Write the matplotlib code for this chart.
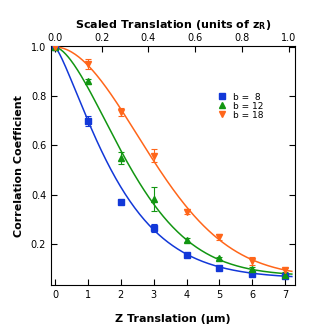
import numpy as np
import matplotlib.pyplot as plt
from matplotlib.lines import Line2D

# data
z = np.array([0, 1, 2, 3, 4, 5, 6, 7])
b8 = np.array([1.0, 0.70, 0.37, 0.265, 0.154, 0.103, 0.080, 0.072])
b8_err = np.array([0.005, 0.02, 0.005, 0.015, 0.005, 0.008, 0.008, 0.008])
b12 = np.array([1.0, 0.86, 0.55, 0.382, 0.215, 0.142, 0.097, 0.076])
b12_err = np.array([0.005, 0.01, 0.025, 0.05, 0.008, 0.005, 0.01, 0.01])
b18 = np.array([1.0, 0.93, 0.736, 0.559, 0.331, 0.229, 0.131, 0.093])
b18_err = np.array([0.008, 0.02, 0.015, 0.025, 0.01, 0.012, 0.017, 0.01])
# points used in the fit (the b=8 point at 2 um sits off the fitted curve)
b8_fit = np.array([1, 1, 0, 1, 1, 1, 1, 1])
b12_fit = np.array([1, 1, 1, 1, 1, 1, 1, 1])
b18_fit = np.array([1, 1, 1, 1, 1, 1, 1, 1])
labels = ['b =  8', 'b = 12', 'b = 18']
z_R = 7.1  # um, for the top axis

colors = ['#1238d8', '#129612', '#ff661a']
markers = ['s', '^', 'v']


def fit_curve(x, y, wt):
    # least squares fit of y = c + (1-c)*exp(-(x/w)**p) by grid search
    c = np.arange(0.0, 0.12, 0.005)[:, None, None, None]
    w = np.arange(0.8, 6.0, 0.02)[None, :, None, None]
    p = np.arange(0.8, 2.6, 0.02)[None, None, :, None]
    pred = c + (1 - c) * np.exp(-(x / w) ** p)
    err = (wt * (pred - y) ** 2).sum(axis=-1)
    i, j, k = np.unravel_index(np.argmin(err), err.shape)
    return c.ravel()[i], w.ravel()[j], p.ravel()[k]


fig = plt.figure(figsize=(3.17, 3.24), dpi=100)
ax = fig.add_axes([0.161, 0.120, 0.770, 0.738])

xs = np.linspace(0, 7.2, 200)
handles = []
for y, e, wt, col, m, lab in zip([b8, b12, b18], [b8_err, b12_err, b18_err],
                                 [b8_fit, b12_fit, b18_fit], colors, markers, labels):
    c, w, p = fit_curve(z.astype(float), y, wt)
    ax.plot(xs, c + (1 - c) * np.exp(-(xs / w) ** p), color=col, lw=1.1, zorder=2)
    ax.errorbar(z, y, yerr=e, fmt=m, color=col, ms=4.5, elinewidth=0.8,
                capsize=2.5, capthick=0.8, zorder=3)
    handles.append(Line2D([], [], ls='none', marker=m, color=col, ms=5, label=lab))

ax.set_xlim(-0.12, 7.3)
ax.set_ylim(0.033, 1.004)
ax.set_xticks(range(8))
ax.set_yticks([0.2, 0.4, 0.6, 0.8, 1.0])
ax.tick_params(direction='in', length=4, width=0.8, labelsize=7, right=True)
for s in ax.spines.values():
    s.set_linewidth(0.8)
ax.spines['top'].set_visible(False)

ax.set_xlabel('Z Translation (µm)', fontsize=8, fontweight='bold', labelpad=10)
ax.set_ylabel('Correlation Coefficient', fontsize=8, fontweight='bold', labelpad=5)

# top axis in units of z_R
top = ax.secondary_xaxis('top', functions=(lambda x: x / z_R, lambda s: s * z_R))
top.set_ticks([0.0, 0.2, 0.4, 0.6, 0.8, 1.0])
top.set_xticklabels(['0.0', '0.2', '0.4', '0.6', '0.8', '1.0'])
top.tick_params(direction='in', length=4, width=0.8, labelsize=7, pad=2)
top.spines['top'].set_linewidth(0.8)
top.set_xlabel(r'Scaled Translation (units of z$_\mathbf{R}$)', fontsize=8,
               fontweight='bold', labelpad=4)

ax.legend(handles=handles, loc='upper left', bbox_to_anchor=(0.685, 0.805), frameon=False,
          fontsize=6.5, handlelength=0.8, handletextpad=0.8, labelspacing=0.0,
          borderpad=0, borderaxespad=0)

fig.savefig('out.png', dpi=100)
